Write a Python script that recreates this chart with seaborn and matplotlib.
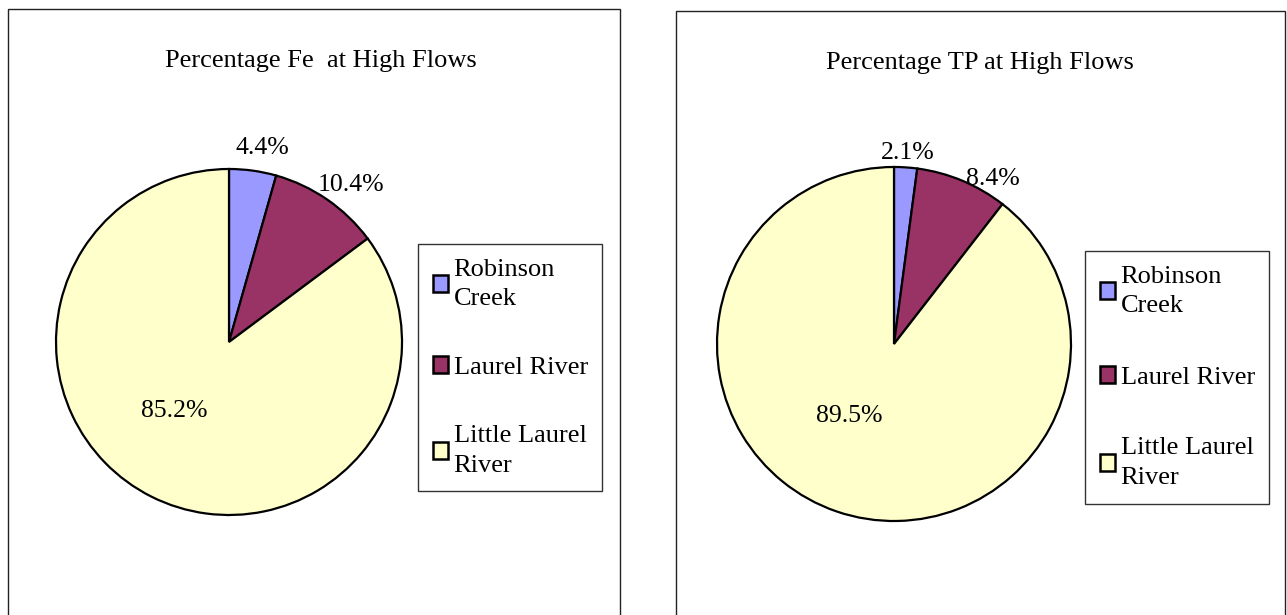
import numpy as np
import matplotlib
matplotlib.use("Agg")
import matplotlib.pyplot as plt
import seaborn as sns
from matplotlib.patches import Rectangle, Patch

sns.set_theme(style="white")
plt.rcParams['font.family'] = ['Liberation Serif', 'DejaVu Serif']
plt.rcParams['text.color'] = 'black'

# data
sites = ['Robinson\nCreek', 'Laurel River', 'Little Laurel\nRiver']
fe_pct = [4.4, 10.4, 85.2]
tp_pct = [2.1, 8.4, 89.5]
titles = ['Percentage Fe  at High Flows', 'Percentage TP at High Flows']
colors = ['#9999FF', '#993366', '#FFFFCC']

W, H = 1287, 615
fig = plt.figure(figsize=(W / 100, H / 100), dpi=100)
fig.patch.set_facecolor('white')

def px(x, y, w, h):
    # pixel box (top-left origin) -> figure fraction
    return [x / W, 1 - (y + h) / H, w / W, h / H]

# panel frames
for (x0, y0, x1) in [(8, 9, 620), (676, 11, 1285)]:
    fig.add_artist(Rectangle((x0 / W, -0.05), (x1 - x0) / W, 1 - y0 / H + 0.05,
                             transform=fig.transFigure, fill=False,
                             edgecolor='#222222', lw=1.0))

# label placement: (radius factor, extra clockwise shift in degrees) per slice
panels = [
    dict(vals=fe_pct, cx=229, cy=342, r=173, tx=321, ty=61, leg=(418, 244), lspace=1.75,
         lab=[(1.14, 1.8), (1.15, 3.3), (0.51, 11.8)]),
    dict(vals=tp_pct, cx=894, cy=344, r=177, tx=980, ty=63, leg=(1085, 251), lspace=1.85,
         lab=[(1.08, 0.3), (1.09, 8.3), (0.48, 13.2)]),
]

for p, title in zip(panels, titles):
    r = p['r']
    ax = fig.add_axes(px(p['cx'] - r, p['cy'] - r, 2 * r, 2 * r))
    wedges, _ = ax.pie(p['vals'], colors=colors, startangle=90, counterclock=False,
                       wedgeprops=dict(edgecolor='black', linewidth=1.6))
    ax.set_xlim(-1, 1)
    ax.set_ylim(-1, 1)
    ax.set_aspect('equal')
    ax.axis('off')
    for w, v, (d, shift) in zip(wedges, p['vals'], p['lab']):
        ang = np.deg2rad((w.theta1 + w.theta2) / 2 - shift)
        ax.text(d * np.cos(ang), d * np.sin(ang), f'{v:.1f}%', ha='center', va='center',
                fontsize=18.5, color='black', clip_on=False)
    fig.text(p['tx'] / W, 1 - p['ty'] / H, title, ha='center', va='center',
             fontsize=19, color='black')
    handles = [Patch(facecolor=c, edgecolor='black', linewidth=1.8) for c in colors]
    leg = fig.legend(handles, sites, loc='upper left',
                     bbox_to_anchor=(p['leg'][0] / W, 1 - p['leg'][1] / H),
                     fontsize=19, frameon=True, fancybox=False, framealpha=1,
                     edgecolor='#333333', borderpad=0.55, handlelength=0.6,
                     handleheight=0.6, handletextpad=0.2, labelspacing=p['lspace'],
                     borderaxespad=0, labelcolor='black')
    leg.get_frame().set_linewidth(1.0)
    for t in leg.get_texts():
        t.set_linespacing(1.45)

fig.savefig('out.png', dpi=100)
